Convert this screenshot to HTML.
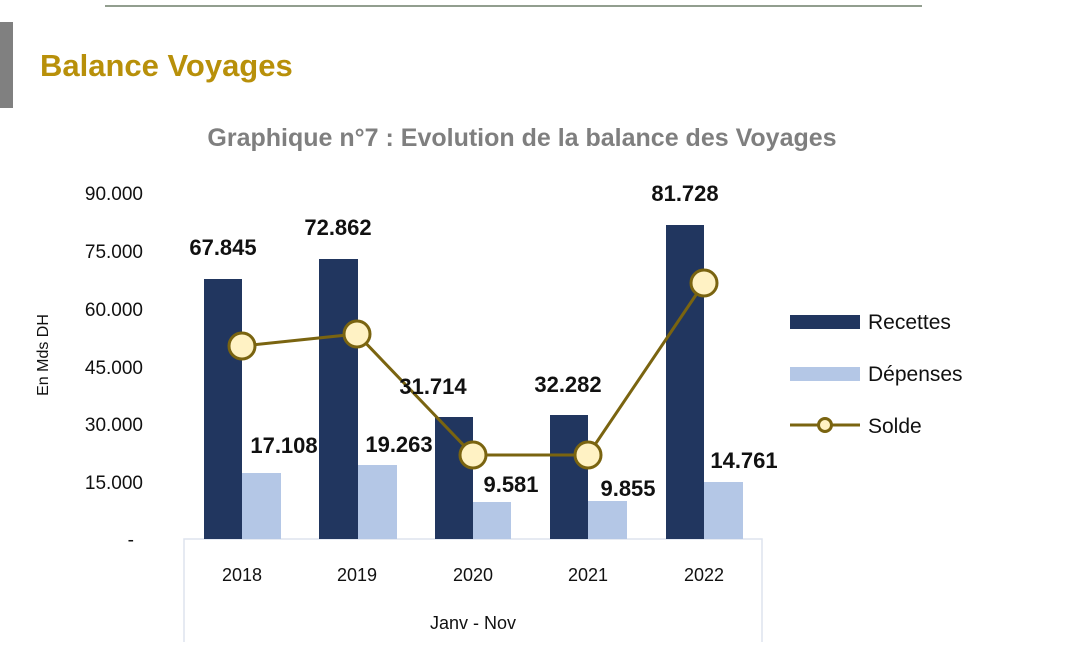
<!DOCTYPE html>
<html><head><meta charset="utf-8"><style>
html,body{margin:0;padding:0;background:#fff;}
svg{display:block;font-family:"Liberation Sans",sans-serif;}
</style></head><body>
<svg width="1067" height="655" viewBox="0 0 1067 655" xmlns="http://www.w3.org/2000/svg">
<rect width="1067" height="655" fill="#fff"/>
<line x1="105" y1="6" x2="922" y2="6" stroke="#6f7f6a" stroke-width="1.5"/>
<rect x="0" y="22" width="13" height="86" fill="#808080"/>
<text x="40" y="76" font-size="31" font-weight="bold" fill="#b8900a">Balance Voyages</text>
<text x="522" y="146" font-size="25" font-weight="bold" fill="#7f7f7f" text-anchor="middle">Graphique n°7 : Evolution de la balance des Voyages</text>
<g font-size="19" fill="#111" text-anchor="end">
<text x="143" y="200">90.000</text>
<text x="143" y="258">75.000</text>
<text x="143" y="316">60.000</text>
<text x="143" y="374">45.000</text>
<text x="143" y="431">30.000</text>
<text x="143" y="489">15.000</text>
<text x="134" y="546">-</text>
</g>
<text transform="translate(48,355) rotate(-90)" font-size="16" fill="#111" text-anchor="middle">En Mds DH</text>
<path d="M184,642 V539 H762 V642" fill="none" stroke="#dde3ee" stroke-width="1.5"/>
<g fill="#21365f">
<rect x="204" y="279" width="38" height="260"/>
<rect x="319" y="259" width="39" height="280"/>
<rect x="435" y="417" width="38" height="122"/>
<rect x="550" y="415" width="38" height="124"/>
<rect x="666" y="225" width="38" height="314"/>
</g>
<g fill="#b4c7e6">
<rect x="242" y="473" width="39" height="66"/>
<rect x="358" y="465" width="39" height="74"/>
<rect x="473" y="502" width="38" height="37"/>
<rect x="588" y="501" width="39" height="38"/>
<rect x="704" y="482" width="39" height="57"/>
</g>
<polyline points="242,346 357,334 473,455 588,455 704,283" fill="none" stroke="#7a6410" stroke-width="3"/>
<g fill="#fff2c4" stroke="#7a6410" stroke-width="3">
<circle cx="242" cy="346" r="13"/><circle cx="357" cy="334" r="13"/><circle cx="473" cy="455" r="13"/><circle cx="588" cy="455" r="13"/><circle cx="704" cy="283" r="13"/>
</g>
<g font-size="22" font-weight="bold" fill="#111" text-anchor="middle">
<text x="223" y="255">67.845</text>
<text x="338" y="235">72.862</text>
<text x="433" y="394">31.714</text>
<text x="568" y="392">32.282</text>
<text x="685" y="201">81.728</text>
<text x="284" y="453">17.108</text>
<text x="399" y="452">19.263</text>
<text x="511" y="492">9.581</text>
<text x="628" y="496">9.855</text>
<text x="744" y="468">14.761</text>
</g>
<g font-size="18" fill="#111" text-anchor="middle">
<text x="242" y="581">2018</text>
<text x="357" y="581">2019</text>
<text x="473" y="581">2020</text>
<text x="588" y="581">2021</text>
<text x="704" y="581">2022</text>
<text x="473" y="629">Janv - Nov</text>
</g>
<rect x="790" y="315" width="70" height="14" fill="#21365f"/>
<rect x="790" y="367" width="70" height="14" fill="#b4c7e6"/>
<line x1="790" y1="425" x2="860" y2="425" stroke="#7a6410" stroke-width="3"/>
<circle cx="825" cy="425" r="6.5" fill="#fff2c4" stroke="#7a6410" stroke-width="3"/>
<g font-size="21" fill="#111">
<text x="868" y="329">Recettes</text>
<text x="868" y="381">Dépenses</text>
<text x="868" y="433">Solde</text>
</g>
</svg>
</body></html>
